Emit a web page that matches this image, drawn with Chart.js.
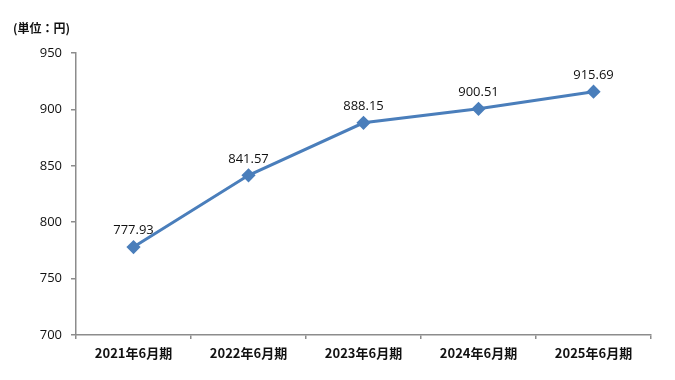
<!DOCTYPE html>
<html><head><meta charset="utf-8">
<script src="https://cdn.jsdelivr.net/npm/chart.js@4"></script>
<style>html,body{margin:0;padding:0;background:#fff}#wrap{width:675px;height:380px}</style>
</head><body><div id="wrap"><canvas id="c" width="675" height="380"></canvas></div>
<script>
const categories = ["2021年6月期","2022年6月期","2023年6月期","2024年6月期","2025年6月期"];
const values = [777.93, 841.57, 888.15, 900.51, 915.69];
const valueLabels = ["777.93","841.57","888.15","900.51","915.69"];
const unitLabel = "(単位：円)";
const yMin = 700, yMax = 950, yStep = 50;

const labelPlugin = {
  id: 'labels',
  afterDatasetsDraw(chart) {
    const ctx = chart.ctx;
    const meta = chart.getDatasetMeta(0);
    ctx.save();
    ctx.fillStyle = '#111';
    ctx.font = '13px "Open Sans", "Noto Sans", sans-serif';
    ctx.textAlign = 'center';
    ctx.textBaseline = 'bottom';
    meta.data.forEach((p, i) => {
      ctx.fillText(valueLabels[i], p.x, p.y - 10);
    });
    ctx.font = 'bold 12px "Noto Sans CJK JP", sans-serif';
    ctx.textAlign = 'left';
    ctx.textBaseline = 'middle';
    ctx.fillText(unitLabel, 13, 28);
    ctx.restore();
  }
};

new Chart(document.getElementById('c'), {
  type: 'line',
  data: {
    labels: categories,
    datasets: [{
      data: values,
      borderColor: '#4A7EBB',
      backgroundColor: '#4A7EBB',
      borderWidth: 3,
      pointStyle: 'rectRot',
      pointRadius: 5,
      pointHoverRadius: 5,
      tension: 0,
      fill: false
    }]
  },
  options: {
    responsive: false,
    animation: false,
    events: [],
    layout: { padding: { left: 0, right: 24, top: 53, bottom: 0 } },
    plugins: { legend: { display: false }, title: { display: false }, tooltip: { enabled: false } },
    scales: {
      x: {
        type: 'category',
        offset: true,
        afterFit(s) { s.height = 45; },
        grid: { display: true, drawOnChartArea: false, drawTicks: true, tickLength: 4, offset: true, color: '#8c8c8c', lineWidth: 1.5 },
        border: { display: true, color: '#8c8c8c', width: 1.5 },
        ticks: { color: '#111', font: { family: '"Noto Sans CJK JP", sans-serif', size: 13, weight: 'bold' }, padding: 6, maxRotation: 0, autoSkip: false }
      },
      y: {
        min: yMin, max: yMax,
        afterFit(s) { s.width = 76; },
        grid: { display: true, drawOnChartArea: false, drawTicks: true, tickLength: 5, color: '#8c8c8c', lineWidth: 1.5 },
        border: { display: true, color: '#8c8c8c', width: 1.5 },
        ticks: { stepSize: yStep, color: '#111', font: { family: '"Open Sans", "Noto Sans", sans-serif', size: 13 }, padding: 9 }
      }
    }
  },
  plugins: [labelPlugin]
});
</script>
</body></html>
